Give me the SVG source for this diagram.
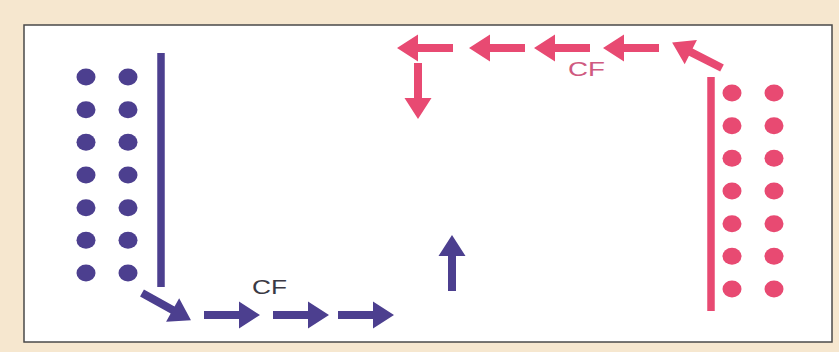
<svg xmlns="http://www.w3.org/2000/svg" xmlns:xlink="http://www.w3.org/1999/xlink" width="839" height="352" viewBox="0 0 839 352">
<style>
.blue{fill:#4c3f8f}
.pink{fill:#e84a72}
.bline{stroke:#4c3f8f;stroke-width:7.5}
.pline{stroke:#e84a72;stroke-width:7.5}
.cfb{font-family:"Liberation Sans",Arial,sans-serif;font-size:20px;fill:#3a3944}
.cfp{font-family:"Liberation Sans",Arial,sans-serif;font-size:21px;fill:#cf5a80}
</style>
<defs>
<path id="arr" d="M0,-4 H35 V-13.5 L56,0 L35,13.5 V4 H0 Z"/>
<g id="dotcol">
<ellipse cx="0" cy="0" rx="9.5" ry="8.5"/>
<ellipse cx="0" cy="32.7" rx="9.5" ry="8.5"/>
<ellipse cx="0" cy="65.3" rx="9.5" ry="8.5"/>
<ellipse cx="0" cy="98" rx="9.5" ry="8.5"/>
<ellipse cx="0" cy="130.7" rx="9.5" ry="8.5"/>
<ellipse cx="0" cy="163.3" rx="9.5" ry="8.5"/>
<ellipse cx="0" cy="196" rx="9.5" ry="8.5"/>
</g>
</defs>
<rect x="0" y="0" width="839" height="352" fill="#f6e7cf"/>
<rect x="24" y="25" width="808" height="317" fill="#ffffff" stroke="#4a4a4a" stroke-width="1.5"/>

<g id="blue-group">
<use xlink:href="#dotcol" x="86" y="77" class="blue"/>
<use xlink:href="#dotcol" x="128" y="77" class="blue"/>
<line x1="161" y1="53" x2="161" y2="287" class="bline"/>
</g>

<g id="pink-group">
<use xlink:href="#dotcol" x="732" y="93" class="pink"/>
<use xlink:href="#dotcol" x="774" y="93" class="pink"/>
<line x1="711" y1="77" x2="711" y2="311" class="pline"/>
</g>

<g id="label-cf-blue"><text x="252" y="294" class="cfb" textLength="35" lengthAdjust="spacingAndGlyphs">CF</text></g>
<g id="label-cf-pink"><text x="568" y="76" class="cfp" textLength="37" lengthAdjust="spacingAndGlyphs">CF</text></g>

<g id="connectors">
<use xlink:href="#arr" class="blue" transform="translate(142,293) rotate(29)"/>
<use xlink:href="#arr" class="blue" transform="translate(204,315)"/>
<use xlink:href="#arr" class="blue" transform="translate(273,315)"/>
<use xlink:href="#arr" class="blue" transform="translate(338,315)"/>
<use xlink:href="#arr" class="blue" transform="translate(452,291) rotate(-90)"/>
<use xlink:href="#arr" class="pink" transform="translate(722,68) rotate(207)"/>
<use xlink:href="#arr" class="pink" transform="translate(659,48) rotate(180)"/>
<use xlink:href="#arr" class="pink" transform="translate(590,48) rotate(180)"/>
<use xlink:href="#arr" class="pink" transform="translate(525,48) rotate(180)"/>
<use xlink:href="#arr" class="pink" transform="translate(453,48) rotate(180)"/>
<use xlink:href="#arr" class="pink" transform="translate(418,63) rotate(90)"/>
</g>
</svg>
